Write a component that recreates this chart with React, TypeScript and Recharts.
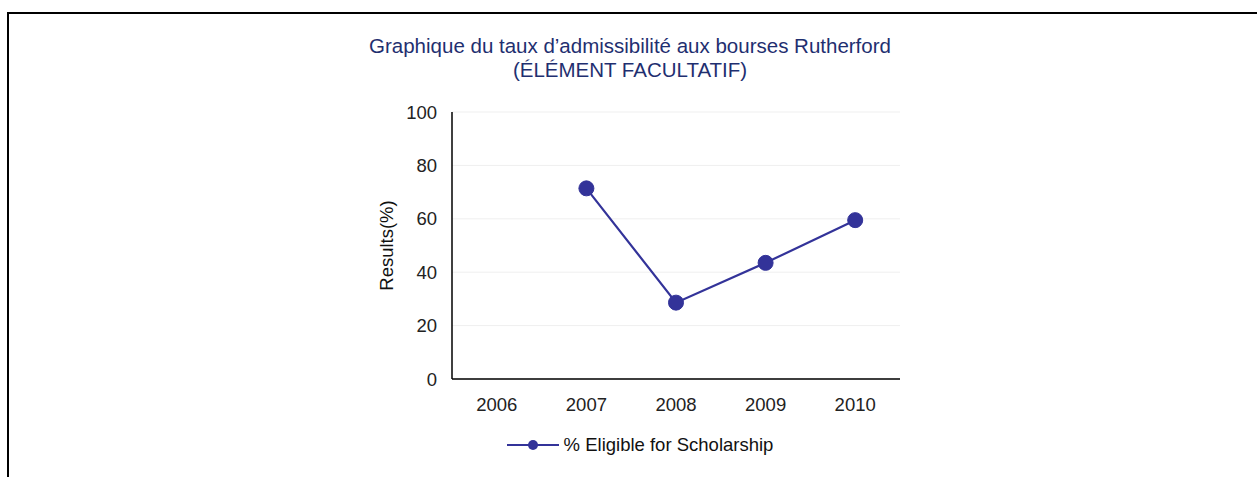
import React from "react";
import { LineChart, Line, XAxis, YAxis, CartesianGrid, Legend } from "recharts";

const years = ["2006", "2007", "2008", "2009", "2010"];
const eligible: (number | null)[] = [null, 71.4, 28.6, 43.5, 59.5];
const yTicks = [0, 20, 40, 60, 80, 100];
const seriesName = "% Eligible for Scholarship";
const titleLines = ["Graphique du taux d\u2019admissibilit\u00e9 aux bourses Rutherford", "(\u00c9L\u00c9MENT FACULTATIF)"];

const data = years.map((y, i) => ({ year: y, value: eligible[i] }));

const FONT = "'Liberation Sans', Arial, sans-serif";
const LINE_COLOR = "#333399";
const FS = 18.5;

const renderLegend = () => (
  <div style={{ display: "flex", justifyContent: "center", alignItems: "center", fontFamily: FONT, fontSize: FS, color: "#111" }}>
    <svg width={52} height={12} style={{ marginRight: 5 }}>
      <line x1={0} y1={6} x2={52} y2={6} stroke={LINE_COLOR} strokeWidth={2} />
      <circle cx={26} cy={6} r={5} fill={LINE_COLOR} />
    </svg>
    <span>{seriesName}</span>
  </div>
);

export default function App() {
  return (
    <div style={{ position: "absolute", left: 0, top: 0, width: 1257, height: 477, background: "#fff" }}>
      <div style={{ position: "absolute", left: 7, top: 12, width: 1250, height: 2, background: "#000" }} />
      <div style={{ position: "absolute", left: 7, top: 12, width: 2, height: 465, background: "#000" }} />
      <div
        style={{
          position: "absolute",
          left: 280,
          width: 700,
          top: 34,
          textAlign: "center",
          fontFamily: FONT,
          fontSize: 20.5,
          lineHeight: "24px",
          color: "#1F2F70",
        }}
      >
        <div>{titleLines[0]}</div>
        <div>{titleLines[1]}</div>
      </div>
      <div style={{ position: "absolute", left: 0, top: 0 }}>
        <LineChart width={1257} height={477} data={data} margin={{ top: 112, right: 357, bottom: 68, left: 392 }}>
          <CartesianGrid vertical={false} stroke="#efefef" strokeWidth={1} />
          <XAxis
            dataKey="year"
            padding={{ left: 44.8, right: 44.8 }}
            axisLine={{ stroke: "#000", strokeWidth: 1.5 }}
            tickLine={false}
            tickSize={0}
            tickMargin={19}
            tick={{ fill: "#222", fontSize: FS, fontFamily: FONT }}
            height={30}
          />
          <YAxis
            domain={[0, 100]}
            ticks={yTicks}
            width={60}
            axisLine={{ stroke: "#000", strokeWidth: 1.5 }}
            tickLine={false}
            tickSize={0}
            tickMargin={15}
            tick={{ fill: "#222", fontSize: FS, fontFamily: FONT }}
            label={{
              value: "Results(%)",
              angle: -90,
              position: "insideLeft",
              offset: -6,
              style: { fill: "#111", fontSize: FS, fontFamily: FONT, textAnchor: "middle" },
            }}
          />
          <Legend
            layout="horizontal"
            verticalAlign="middle"
            align="center"
            content={renderLegend}
            wrapperStyle={{ top: 434, left: 0, width: 1280 }}
          />
          <Line
            type="linear"
            dataKey="value"
            name={seriesName}
            stroke={LINE_COLOR}
            strokeWidth={2.2}
            dot={{ r: 7.5, fill: LINE_COLOR, stroke: LINE_COLOR, strokeWidth: 1 }}
            activeDot={false}
            connectNulls={false}
            isAnimationActive={false}
          />
        </LineChart>
      </div>
    </div>
  );
}
